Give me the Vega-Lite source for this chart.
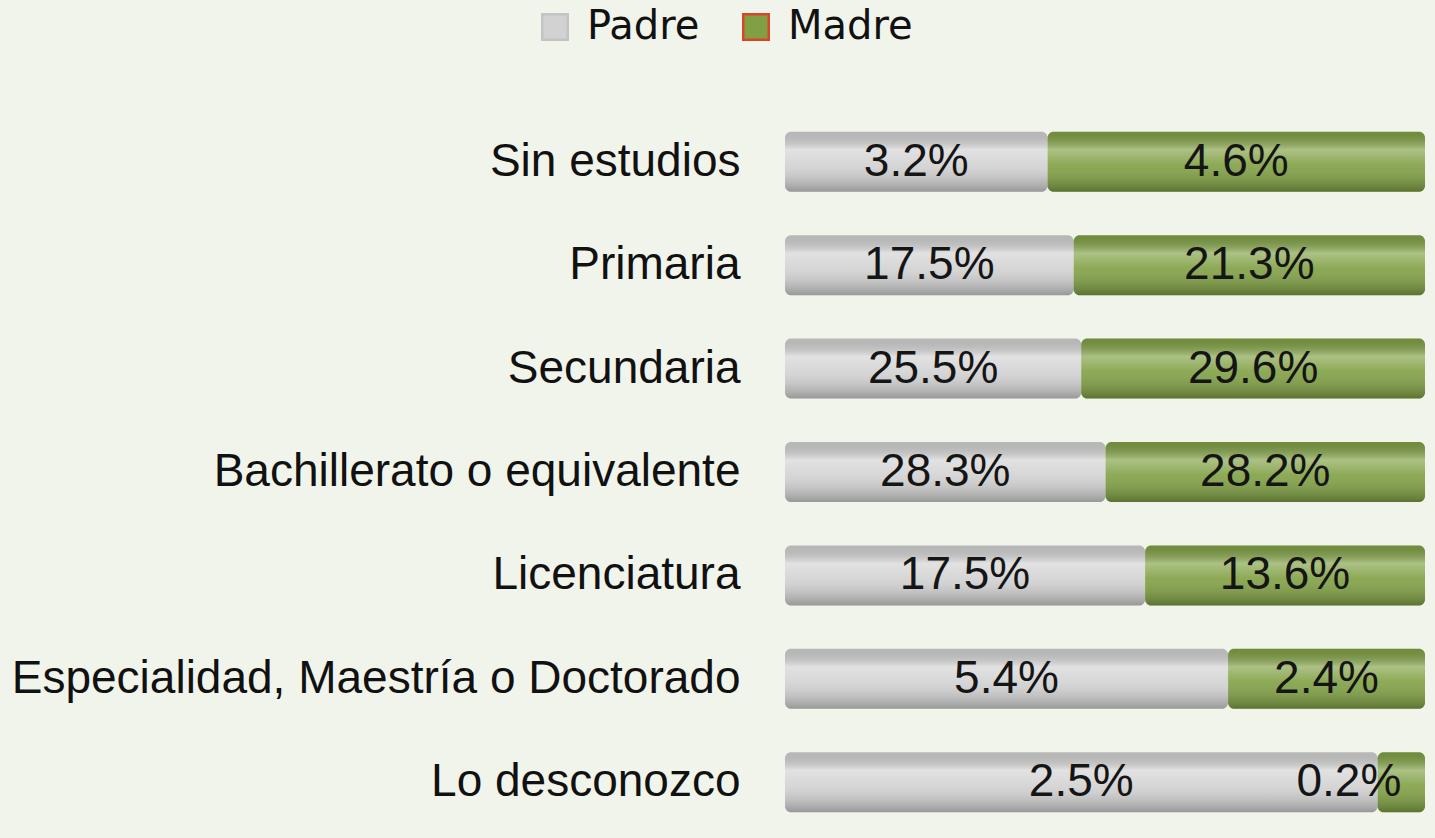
{
  "$schema": "https://vega.github.io/schema/vega-lite/v6.json",
  "width": 640,
  "height": 724,
  "autosize": {"type": "none"},
  "padding": {"left": 785, "top": 110, "right": 10, "bottom": 4},
  "background": "#f1f4ea",
  "config": {"view": {"stroke": null}, "font": "Liberation Sans"},
  "data": {
    "values": [
      {"nivel": "Sin estudios", "genero": "Padre", "valor": 3.2},
      {"nivel": "Sin estudios", "genero": "Madre", "valor": 4.6},
      {"nivel": "Primaria", "genero": "Padre", "valor": 17.5},
      {"nivel": "Primaria", "genero": "Madre", "valor": 21.3},
      {"nivel": "Secundaria", "genero": "Padre", "valor": 25.5},
      {"nivel": "Secundaria", "genero": "Madre", "valor": 29.6},
      {"nivel": "Bachillerato o equivalente", "genero": "Padre", "valor": 28.3},
      {"nivel": "Bachillerato o equivalente", "genero": "Madre", "valor": 28.2},
      {"nivel": "Licenciatura", "genero": "Padre", "valor": 17.5},
      {"nivel": "Licenciatura", "genero": "Madre", "valor": 13.6},
      {"nivel": "Especialidad, Maestría o Doctorado", "genero": "Padre", "valor": 5.4},
      {"nivel": "Especialidad, Maestría o Doctorado", "genero": "Madre", "valor": 2.4},
      {"nivel": "Lo desconozco", "genero": "Padre", "valor": 2.5},
      {"nivel": "Lo desconozco", "genero": "Madre", "valor": 0.2}
    ]
  },
  "transform": [
    {"stack": "valor", "groupby": ["nivel"], "sort": [{"field": "genero", "order": "descending"}], "offset": "normalize", "as": ["v0", "v1"]},
    {"calculate": "(datum.v0 + datum.v1) / 2", "as": "vm"},
    {"calculate": "format(datum.valor, '.1f') + '%'", "as": "etiqueta"}
  ],
  "encoding": {
    "y": {
      "field": "nivel",
      "type": "nominal",
      "sort": ["Sin estudios", "Primaria", "Secundaria", "Bachillerato o equivalente", "Licenciatura", "Especialidad, Maestría o Doctorado", "Lo desconozco"],
      "scale": {"paddingInner": 0.42, "paddingOuter": 0.21},
      "axis": {"title": null, "domain": false, "ticks": false, "labelFontSize": 46, "labelColor": "#111111", "labelPadding": 45, "labelLimit": 900, "labelFont": "Liberation Sans"}
    }
  },
  "layer": [
    {
      "mark": {"type": "bar", "cornerRadius": 6},
      "encoding": {
        "x": {"field": "v0", "type": "quantitative", "scale": {"domain": [0, 1]}, "axis": null},
        "x2": {"field": "v1"},
        "color": {
          "field": "genero",
          "type": "nominal",
          "scale": {"domain": ["Padre", "Madre"], "range": ["#d2d2d2", "#80a043"]},
          "legend": {
            "title": null,
            "orient": "none",
            "direction": "horizontal",
            "legendX": -250,
            "legendY": -103,
            "labelFontSize": 40,
            "labelFont": "DejaVu Sans",
            "labelColor": "#111111",
            "symbolType": "square",
            "symbolSize": 650,
            "symbolOpacity": 1,
            "columnPadding": 36,
            "labelOffset": 12,
            "encode": {
              "symbols": {
                "update": {
                  "stroke": {"signal": "datum.value === 'Madre' ? '#d9452b' : '#c4c4c4'"},
                  "strokeWidth": {"value": 2.5}
                }
              }
            }
          }
        }
      }
    },
    {
      "mark": {
        "type": "bar",
        "cornerRadius": 6,
        "fill": {
          "gradient": "linear",
          "x1": 0, "y1": 0, "x2": 0, "y2": 1,
          "stops": [
            {"offset": 0, "color": "rgba(0,0,0,0.12)"},
            {"offset": 0.3, "color": "rgba(255,255,255,0.35)"},
            {"offset": 0.55, "color": "rgba(255,255,255,0.1)"},
            {"offset": 1, "color": "rgba(0,0,0,0.28)"}
          ]
        }
      },
      "encoding": {
        "x": {"field": "v0", "type": "quantitative"},
        "x2": {"field": "v1"}
      }
    },
    {
      "mark": {"type": "text", "fontSize": 46, "font": "Liberation Sans", "color": "#151515", "baseline": "middle", "align": {"expr": "datum.vm > 0.95 ? 'right' : 'center'"}},
      "encoding": {
        "x": {"field": "vm", "type": "quantitative"},
        "text": {"field": "etiqueta"}
      }
    }
  ]
}
